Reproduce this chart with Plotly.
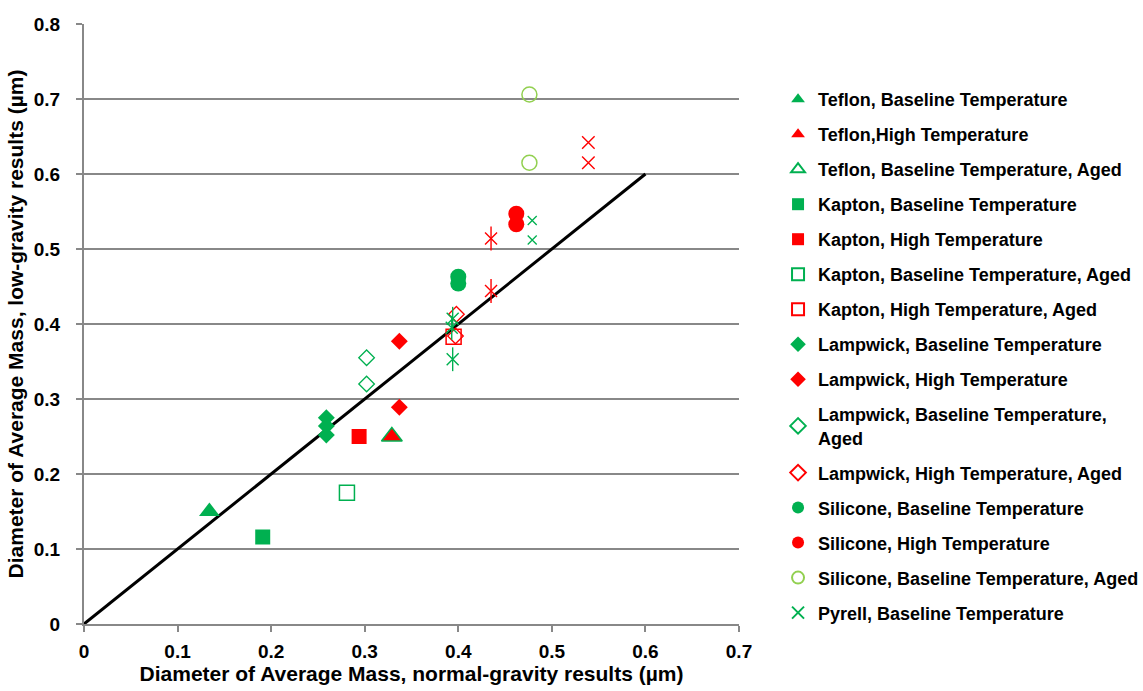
import plotly.graph_objects as go

GREEN = "#00B050"
RED = "#FF0000"
LGREEN = "#92D050"
FONT = "Arial, Liberation Sans, sans-serif"

# ---- data (normal-gravity x, low-gravity y) ----
teflon_base_x = [0.134]
teflon_base_y = [0.150]
teflon_high_x = [0.329]
teflon_high_y = [0.250]
teflon_base_aged_x = [0.329]
teflon_base_aged_y = [0.250]
kapton_base_x = [0.191]
kapton_base_y = [0.116]
kapton_high_x = [0.294]
kapton_high_y = [0.250]
kapton_base_aged_x = [0.281]
kapton_base_aged_y = [0.175]
kapton_high_aged_x = [0.395]
kapton_high_aged_y = [0.383]
lampwick_base_x = [0.259, 0.259, 0.259]
lampwick_base_y = [0.275, 0.264, 0.252]
lampwick_high_x = [0.337, 0.337]
lampwick_high_y = [0.377, 0.289]
lampwick_base_aged_x = [0.302, 0.302]
lampwick_base_aged_y = [0.355, 0.320]
lampwick_high_aged_x = [0.398, 0.397]
lampwick_high_aged_y = [0.413, 0.384]
silicone_base_x = [0.400, 0.400]
silicone_base_y = [0.463, 0.454]
silicone_high_x = [0.462, 0.462]
silicone_high_y = [0.547, 0.533]
silicone_base_aged_x = [0.476, 0.476]
silicone_base_aged_y = [0.706, 0.615]
pyrell_base_x = [0.394, 0.393, 0.394]
pyrell_base_y = [0.407, 0.395, 0.353]
pyrell_high_x = [0.435, 0.435]
pyrell_high_y = [0.514, 0.444]
pyrell_base_aged_x = [0.479, 0.479]
pyrell_base_aged_y = [0.538, 0.512]
pyrell_high_aged_x = [0.539, 0.539]
pyrell_high_aged_y = [0.642, 0.615]
line_x = [0, 0.6]
line_y = [0, 0.6]

x_ticks = [0, 0.1, 0.2, 0.3, 0.4, 0.5, 0.6, 0.7]
y_ticks = [0, 0.1, 0.2, 0.3, 0.4, 0.5, 0.6, 0.7, 0.8]

series = [
    ("Teflon, Baseline Temperature", teflon_base_x, teflon_base_y, "triangle-up", GREEN, 18, 0, True),
    ("Teflon,High Temperature", teflon_high_x, teflon_high_y, "triangle-up", RED, 18, 0, True),
    ("Teflon, Baseline Temperature, Aged", teflon_base_aged_x, teflon_base_aged_y, "triangle-up-open", GREEN, 18, 1.5, True),
    ("Kapton, Baseline Temperature", kapton_base_x, kapton_base_y, "square", GREEN, 15, 0, True),
    ("Kapton, High Temperature", kapton_high_x, kapton_high_y, "square", RED, 15, 0, True),
    ("Kapton, Baseline Temperature, Aged", kapton_base_aged_x, kapton_base_aged_y, "square-open", GREEN, 15, 1.5, True),
    ("Kapton, High Temperature, Aged", kapton_high_aged_x, kapton_high_aged_y, "square-open", RED, 15, 1.5, True),
    ("Lampwick, Baseline Temperature", lampwick_base_x, lampwick_base_y, "diamond", GREEN, 13, 0, True),
    ("Lampwick, High Temperature", lampwick_high_x, lampwick_high_y, "diamond", RED, 13, 0, True),
    ("Lampwick, Baseline Temperature,<br>Aged", lampwick_base_aged_x, lampwick_base_aged_y, "diamond-open", GREEN, 12, 1.3, True),
    ("Lampwick, High Temperature, Aged", lampwick_high_aged_x, lampwick_high_aged_y, "diamond-open", RED, 12, 1.3, True),
    ("Silicone, Baseline Temperature", silicone_base_x, silicone_base_y, "circle", GREEN, 16, 0, True),
    ("Silicone, High Temperature", silicone_high_x, silicone_high_y, "circle", RED, 16, 0, True),
    ("Silicone, Baseline Temperature, Aged", silicone_base_aged_x, silicone_base_aged_y, "circle-open", LGREEN, 15, 1.5, True),
    ("Pyrell, Baseline Temperature", pyrell_base_x, pyrell_base_y, "x-thin-open", GREEN, 12, 1.4, True),
    ("Pyrell, High Temperature", pyrell_high_x, pyrell_high_y, "x-thin-open", RED, 12, 1.4, False),
    ("Pyrell, Baseline Temperature, Aged", pyrell_base_aged_x, pyrell_base_aged_y, "x-thin-open", GREEN, 9, 1.3, False),
    ("Pyrell, High Temperature, Aged", pyrell_high_aged_x, pyrell_high_aged_y, "x-thin-open", RED, 12.5, 1.4, False),
]

fig = go.Figure()

fig.add_trace(go.Scatter(x=line_x, y=line_y, mode="lines",
                         line=dict(color="black", width=3),
                         showlegend=False, hoverinfo="skip"))

for i, (name, xs, ys, sym, col, size, lw, show) in enumerate(series):
    marker = dict(symbol=sym, color=col, size=size)
    if lw:
        marker["line"] = dict(color=col, width=lw)
    else:
        marker["line"] = dict(width=0)
    fig.add_trace(go.Scatter(x=xs, y=ys, mode="markers", name=name,
                             marker=marker, showlegend=show,
                             legendgroup="g%d" % i))

# vertical strokes that complete the asterisk markers
for xs, ys, col, size in [(pyrell_base_x, pyrell_base_y, GREEN, 17),
                          (pyrell_high_x, pyrell_high_y, RED, 17)]:
    fig.add_trace(go.Scatter(x=xs, y=ys, mode="markers", showlegend=False,
                             marker=dict(symbol="line-ns-open", size=size, color=col,
                                         line=dict(color=col, width=1.4)),
                             hoverinfo="skip"))

axis_font = dict(family=FONT, size=19, color="black", weight="bold")
title_font = dict(family=FONT, size=21, color="black", weight="bold")

fig.update_layout(
    width=1143, height=691,
    paper_bgcolor="white", plot_bgcolor="white",
    margin=dict(l=84, r=404, t=24, b=67, autoexpand=False),
    showlegend=True,
    legend=dict(x=1.0596, xanchor="left", y=0.905, yanchor="top",
                font=dict(family=FONT, size=18, color="black", weight="bold"),
                bgcolor="rgba(0,0,0,0)", tracegroupgap=8.6,
                itemsizing="constant", traceorder="grouped"),
    xaxis=dict(range=[0, 0.7], tickvals=x_ticks, ticktext=[("%g" % v) for v in x_ticks],
               showgrid=False, zeroline=False, showline=True,
               linecolor="#888888", linewidth=2, ticks="outside", ticklen=6,
               tickcolor="#888888", tickwidth=2, tickfont=axis_font,
               ticklabelstandoff=3,
               title=dict(text="Diameter of Average Mass, normal-gravity results (µm)",
                          font=title_font, standoff=6)),
    yaxis=dict(range=[0, 0.8], tickvals=y_ticks, ticktext=[("%g" % v) for v in y_ticks],
               showgrid=True, gridcolor="#888888", gridwidth=2,
               zeroline=False, showline=True,
               linecolor="#888888", linewidth=2, ticks="outside", ticklen=6,
               tickcolor="#888888", tickwidth=2, tickfont=axis_font,
               ticklabelstandoff=12,
               title=dict(text="Diameter of Average Mass, low-gravity results (µm)",
                          font=title_font, standoff=4)),
)

fig.write_html("out.html")
